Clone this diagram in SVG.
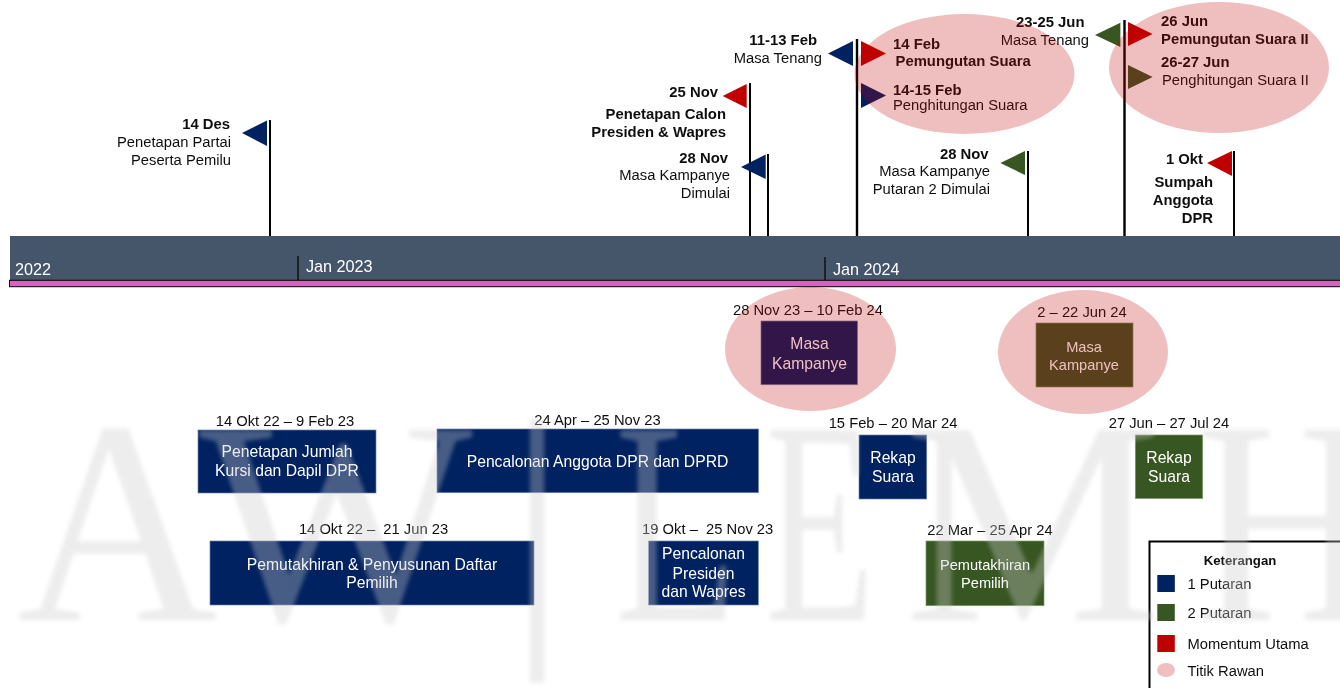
<svg xmlns="http://www.w3.org/2000/svg" width="1340" height="688" viewBox="0 0 1340 688">
<style>
text{font-family:"Liberation Sans",Arial,sans-serif;font-size:14.75px;fill:#111}
.b{font-weight:bold;font-size:14.85px}
.e{text-anchor:end}
.m{text-anchor:middle}
.w{fill:#fff;font-size:15.7px}
.s{font-size:14.6px}
.tl{fill:#fff;font-size:16.2px}
.navy{fill:#002060}
.green{fill:#385723}
.red{fill:#c00000}
.bn{fill:#002060;stroke:#6f83ab;stroke-width:.7}
.bg{fill:#385723;stroke:#7f9a6a;stroke-width:.7}
.pole{stroke:#000;stroke-width:2;fill:none}
.rawan{fill:#c00000;fill-opacity:.25}
.wm text{font-family:"Liberation Serif",serif;font-size:290px;fill:#cccccc}
</style>
<defs>
<filter id="soft" x="-5%" y="-5%" width="110%" height="110%"><feGaussianBlur stdDeviation="2"/></filter>
<filter id="page" x="0" y="0" width="100%" height="100%"><feGaussianBlur stdDeviation=".35"/></filter>
</defs>
<rect width="1340" height="688" fill="#fff"/>

<g filter="url(#page)">
<g id="timeline">
<rect x="10" y="236" width="1330" height="44.5" fill="#44546a"/>
<rect x="9.5" y="280.3" width="1340" height="6.4" fill="#dd5fc0" stroke="#000" stroke-width="1"/>
<path d="M298 256V280M825 257V280" stroke="#000" stroke-width="1.2" fill="none"/>
<text class="tl" x="15" y="275">2022</text>
<text class="tl" x="306" y="272">Jan 2023</text>
<text class="tl" x="833" y="275">Jan 2024</text>
</g>

<g id="connectors">
<path class="pole" d="M270 120V236M750 83V236M768 154V236M1028 151V236M1234 151V236"/>
<path class="pole" style="stroke-width:2.4" d="M857 39V236M1124.5 20V236"/>
</g>

<g id="m-14des"><polygon class="navy" points="267,120.5 242,133 267,146"/>
<text class="b e" x="230" y="129">14 Des</text><text class="e" x="231" y="147">Penetapan Partai</text><text class="e" x="231" y="165">Peserta Pemilu</text></g>
<g id="m-25nov"><polygon class="red" points="746.7,84 722.7,96 746.7,108"/>
<text class="b e" x="718" y="97">25 Nov</text><text class="b e" x="726" y="119">Penetapan Calon</text><text class="b e" x="726" y="137">Presiden &amp; Wapres</text></g>
<g id="m-28nov"><polygon class="navy" points="765.7,154.5 741,167 765.7,179"/>
<text class="b e" x="728" y="163">28 Nov</text><text class="e" x="730" y="180">Masa Kampanye</text><text class="e" x="730" y="198">Dimulai</text></g>
<g id="m-11feb"><polygon class="navy" points="853,41 828,53.5 853,66"/>
<text class="b e" x="817" y="45">11-13 Feb</text><text class="e" x="822" y="63">Masa Tenang</text></g>
<g id="m-14feb"><polygon class="red" points="861,41 886,53.5 861,66"/>
<text class="b" x="893" y="49">14 Feb</text><text class="b" x="895.5" y="66">Pemungutan Suara</text></g>
<g id="m-1415feb"><polygon class="navy" points="861,83 886,95.5 861,108"/>
<text class="b" x="893" y="95">14-15 Feb</text><text x="893" y="110">Penghitungan Suara</text></g>
<g id="m-23jun"><polygon class="green" points="1120.4,22.7 1095,35 1120.4,47"/>
<text class="b e" x="1084.5" y="27">23-25 Jun</text><text class="e" x="1089" y="45">Masa Tenang</text></g>
<g id="m-26jun"><polygon class="red" points="1128,22 1152.6,34 1128,46"/>
<text class="b" x="1161" y="26">26 Jun</text><text class="b" x="1161" y="44">Pemungutan Suara II</text></g>
<g id="m-2627jun"><polygon class="green" points="1128,65 1152.6,77 1128,89"/>
<text class="b" x="1161" y="67">26-27 Jun</text><text x="1162" y="85">Penghitungan Suara II</text></g>
<g id="m-28nov2"><polygon class="green" points="1025,151 1000.4,163 1025,175"/>
<text class="b e" x="988.6" y="159">28 Nov</text><text class="e" x="990" y="176">Masa Kampanye</text><text class="e" x="990" y="194">Putaran 2 Dimulai</text></g>
<g id="m-1okt"><polygon class="red" points="1232,151 1207,163 1232,176"/>
<text class="b e" x="1203" y="164">1 Okt</text><text class="b e" x="1213" y="187">Sumpah</text><text class="b e" x="1213" y="205">Anggota</text><text class="b e" x="1213" y="223">DPR</text></g>

<g id="b-kampanye1"><text class="m" x="808" y="315">28 Nov 23 – 10 Feb 24</text><rect class="bn" x="761" y="321" width="96.5" height="63.7"/>
<text class="m w" x="809.5" y="349">Masa</text><text class="m w" x="809.5" y="368.5">Kampanye</text></g>
<g id="b-kampanye2"><text class="m" x="1082" y="317">2 – 22 Jun 24</text><rect class="bg" x="1036" y="323" width="97" height="64"/>
<text class="m w s" x="1084" y="352">Masa</text><text class="m w s" x="1084" y="370">Kampanye</text></g>
<g id="b-kursi"><text class="m" x="285" y="426">14 Okt 22 – 9 Feb 23</text><rect class="bn" x="198" y="430" width="178" height="63"/>
<text class="m w" x="287" y="457">Penetapan Jumlah</text><text class="m w" x="287" y="476">Kursi dan Dapil DPR</text></g>
<g id="b-anggota"><text class="m" x="597.5" y="424.5">24 Apr – 25 Nov 23</text><rect class="bn" x="437" y="429" width="321.5" height="63.7"/>
<text class="m w" x="597.5" y="466.5">Pencalonan Anggota DPR dan DPRD</text></g>
<g id="b-rekap1"><text class="m" x="893" y="428">15 Feb – 20 Mar 24</text><rect class="bn" x="859" y="435" width="67.7" height="64"/>
<text class="m w" x="893" y="463">Rekap</text><text class="m w" x="893" y="482">Suara</text></g>
<g id="b-rekap2"><text class="m" x="1169" y="428">27 Jun – 27 Jul 24</text><rect class="bg" x="1135.3" y="435" width="67.4" height="63.5"/>
<text class="m w" x="1169" y="463">Rekap</text><text class="m w" x="1169" y="482">Suara</text></g>
<g id="b-daftar"><text class="m" xml:space="preserve" x="373.5" y="534">14 Okt 22 –  21 Jun 23</text><rect class="bn" x="210" y="541" width="324" height="64"/>
<text class="m w" x="372" y="569.5">Pemutakhiran &amp; Penyusunan Daftar</text><text class="m w" x="372" y="588">Pemilih</text></g>
<g id="b-presiden"><text class="m" xml:space="preserve" x="707.7" y="534">19 Okt –  25 Nov 23</text><rect class="bn" x="648.7" y="541" width="109.6" height="64"/>
<text class="m w" x="703.5" y="559">Pencalonan</text><text class="m w" x="703.5" y="579">Presiden</text><text class="m w" x="703.5" y="597">dan Wapres</text></g>
<g id="b-pemutakhiran"><text class="m" x="990" y="535">22 Mar – 25 Apr 24</text><rect class="bg" x="926" y="541" width="118" height="64.7"/>
<text class="m w s" x="985" y="570">Pemutakhiran</text><text class="m w s" x="985" y="588">Pemilih</text></g>

<g id="titik-rawan">
<ellipse class="rawan" cx="964.5" cy="74" rx="110" ry="60"/>
<ellipse class="rawan" cx="1219" cy="67.5" rx="110" ry="65.5"/>
<ellipse class="rawan" cx="810.5" cy="349" rx="85.5" ry="62"/>
<ellipse class="rawan" cx="1083" cy="352" rx="85" ry="62"/>
</g>

<g id="legend">
<rect x="1149.5" y="541.5" width="300" height="300" fill="#fff" stroke="#000" stroke-width="2"/>
<text class="b m" style="font-size:13.2px" x="1240" y="565">Keterangan</text>
<rect class="navy" x="1157.3" y="575" width="17.5" height="17"/><text x="1187.5" y="589">1 Putaran</text>
<rect class="green" x="1157.3" y="604" width="17.5" height="17"/><text x="1187.5" y="618">2 Putaran</text>
<rect class="red" x="1157.3" y="635" width="17.5" height="17"/><text x="1187.5" y="649">Momentum Utama</text>
<ellipse cx="1166" cy="670" rx="9" ry="7" fill="#efbfbf"/><text x="1187.5" y="675.5">Titik Rawan</text>
</g>
</g>

<g id="watermark" class="wm" opacity=".35" filter="url(#soft)">
<text transform="translate(17 620) scale(.96 1)">A</text>
<text transform="translate(199 620)">W</text>
<text transform="translate(508 620)">|</text>
<text transform="translate(614.6 620) scale(.7 1)">L</text>
<text transform="translate(765 620) scale(.62 1)">E</text>
<text transform="translate(904 620)">M</text>
<text transform="translate(1196 620) scale(.87 1)">H</text>
</g>
</svg>
